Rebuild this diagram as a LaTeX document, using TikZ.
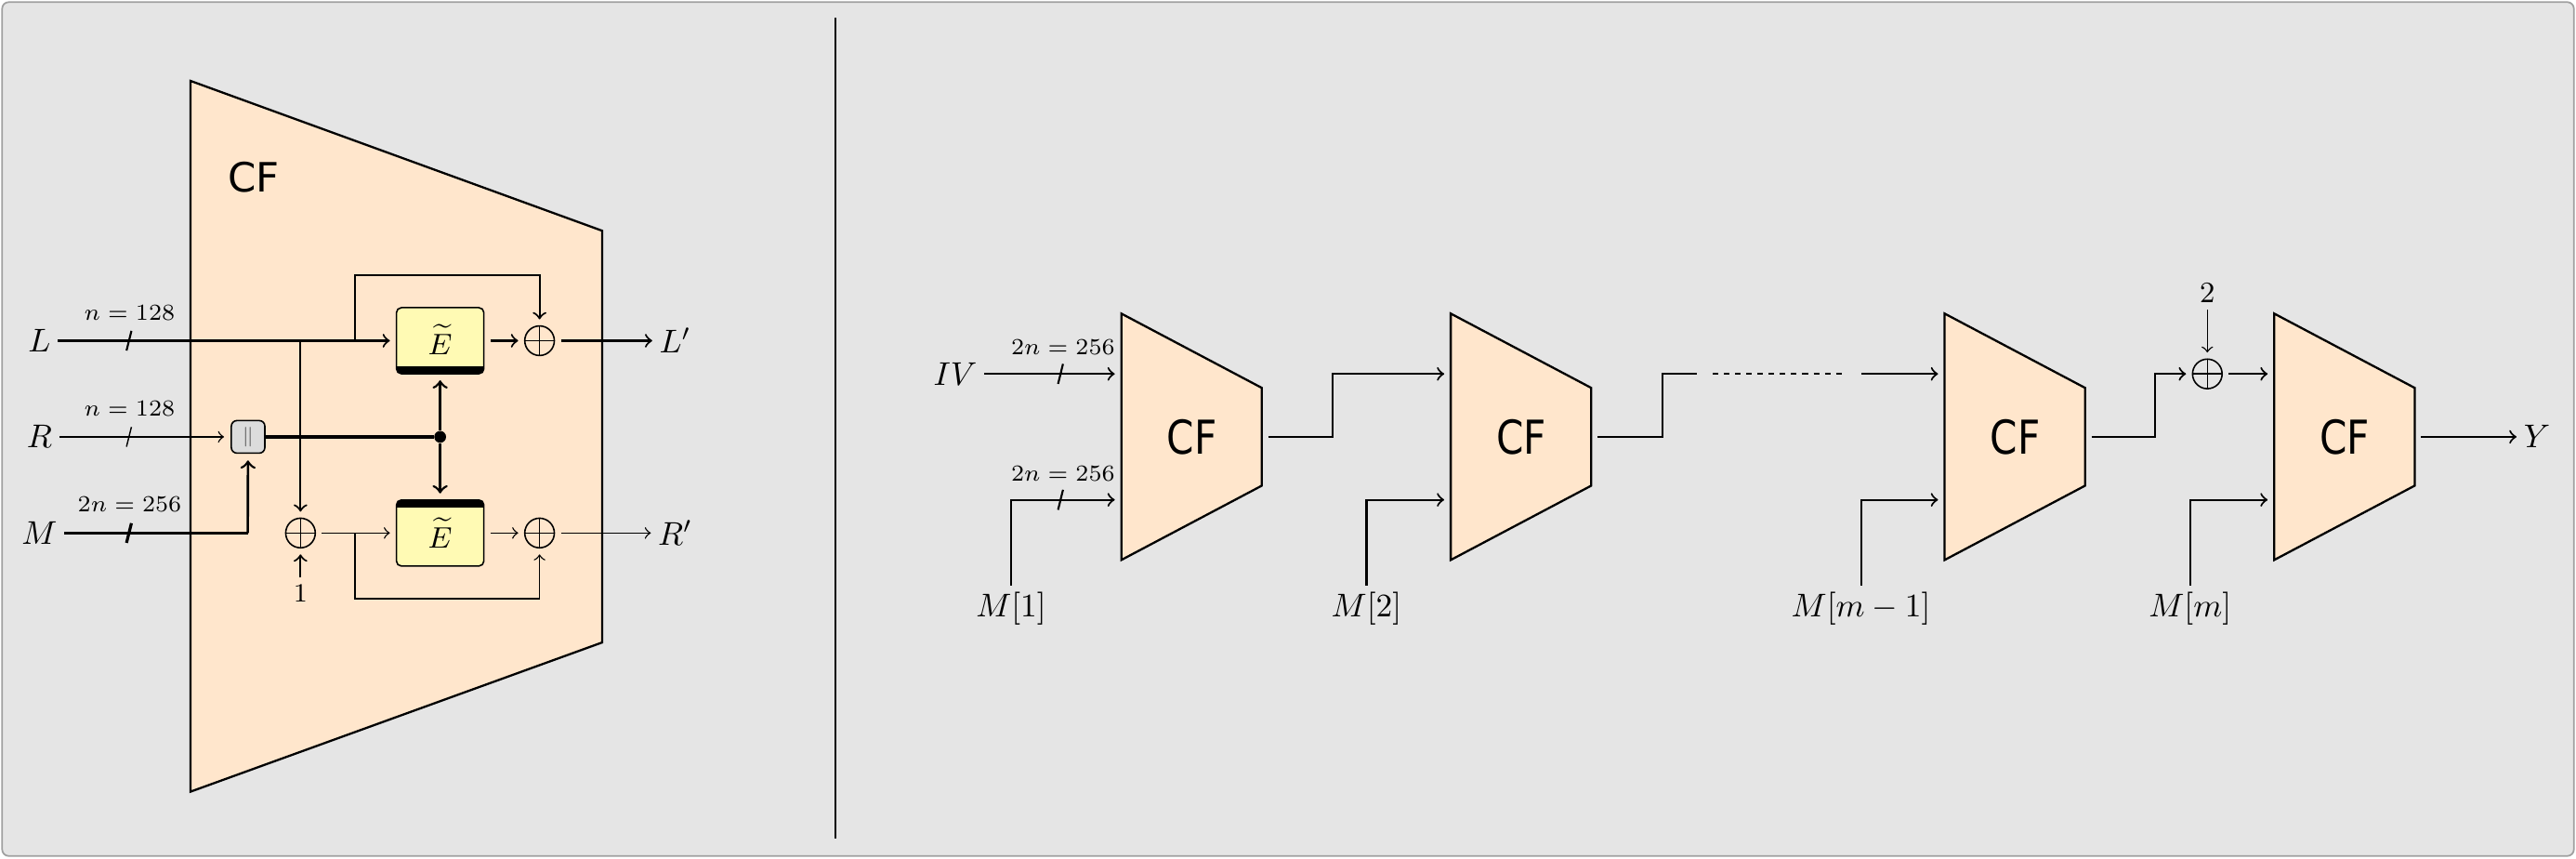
\documentclass[tikz,border=0pt]{standalone}
\usepackage{fontspec}
\usepackage{graphicx}
\newfontfamily\cffont{DejaVu Sans}
\usetikzlibrary{calc}
\definecolor{bgc}{RGB}{229,229,229}
\definecolor{framec}{RGB}{160,160,160}
\definecolor{peach}{RGB}{255,230,204}
\definecolor{eyel}{RGB}{255,250,180}
\definecolor{catg}{RGB}{220,220,220}
\tikzset{
  trap/.style={fill=peach,draw=black,line width=0.65pt,line join=miter},
  cfbig/.style={font=\fontsize{12.3}{14}\cffont, inner sep=0pt},
  cflab/.style={font=\fontsize{14.2}{16}\cffont, inner sep=0pt},
  lab/.style={font=\fontsize{10}{12}\selectfont, inner sep=2pt},
  smlab/.style={font=\fontsize{6.8}{8}\selectfont, inner sep=0pt},
  numlab/.style={font=\fontsize{8}{9.6}\selectfont, inner sep=2pt},
  numlabb/.style={font=\fontsize{9}{11}\selectfont, inner sep=2pt},
  ebox/.style={rectangle, rounded corners=1.5pt, minimum width=26.6pt, minimum height=20.1pt,
    fill=eyel, draw, line width=0.45pt, inner sep=0pt, outer sep=2pt, font=\fontsize{9}{10}\selectfont},
  barbottom/.style={path picture={\fill[black,sharp corners] (path picture bounding box.south west) rectangle ([yshift=2.2pt]path picture bounding box.south east);}},
  bartop/.style={path picture={\fill[black,sharp corners] (path picture bounding box.north west) rectangle ([yshift=-2.2pt]path picture bounding box.north east);}},
  xorn/.style={circle, draw, line width=0.45pt, minimum size=9pt, inner sep=0pt, outer sep=2pt,
    path picture={\draw[line width=0.45pt] (path picture bounding box.north) -- (path picture bounding box.south)
      (path picture bounding box.west) -- (path picture bounding box.east);}},
  catbox/.style={rectangle, rounded corners=1.7pt, minimum width=10.2pt, minimum height=9.9pt,
    fill=catg, draw, line width=0.45pt, inner sep=0pt, font=\fontsize{6.5}{7}\selectfont},
  dotn/.style={circle, fill=black, inner sep=0pt, minimum size=3.6pt},
  wire/.style={line width=0.6pt},
  thinw/.style={line width=0.4pt},
  rwire/.style={line width=0.6pt},
  dbl/.style={line width=0.75pt},
  bus/.style={line width=1.1pt},
  mline/.style={line width=0.9pt},
  divider/.style={line width=0.75pt},
}
\newcommand\cfblock[2]{%
  \draw[trap] (#2,190.8) -- (#2+85.5,236) -- (#2+85.5,295.5) -- (#2,340.7) -- cycle;
  \coordinate (#1a) at (#2,227.5);
  \coordinate (#1b) at (#2,304.1);
  \coordinate (#1o) at (#2+85.5,265.8);
  \node[cflab] (#1l) at (#2+43,265.8) {\scalebox{0.84}[1]{CF}};
}
\begin{document}
\begin{tikzpicture}[x=0.5pt,y=-0.5pt,>=to]
\useasboundingbox (0,0) rectangle (1567.9,522.1);
\draw[fill=bgc,draw=framec,line width=0.5pt,rounded corners=2pt] (1.3,1.3) rectangle (1566.6,520.8);
% ---------- left: compression function ----------
\draw[trap] (115.9,49.2) -- (366.5,140.4) -- (366.5,390.9) -- (115.9,481.7) -- cycle;
\node[cfbig] (cftitle) at (154.3,108) {CF};
\node[lab] (L) at (24,207.3) {$L$};
\node[lab] (R) at (24,265.8) {$R$};
\node[lab] (M) at (24,324.3) {$M$};
\node[ebox,barbottom] (E1) at (267.9,207.3) {\raisebox{0.6pt}{$\widetilde{E}$}};
\node[ebox,bartop] (E2) at (267.9,324.3) {\raisebox{-0.6pt}{$\widetilde{E}$}};
\node[xorn] (X1) at (328.4,207.3) {};
\node[xorn] (X2) at (182.9,324.3) {};
\node[xorn] (X3) at (328.4,324.3) {};
\node[catbox] (cat) at (151,265.8) {\textcolor{black!60}{$\|$}};
\node[dotn] (dot) at (267.9,265.8) {};
\node[lab] (Lp) at (411,207.3) {$L'$};
\node[lab] (Rp) at (411,324.3) {$R'$};
\node[numlab] (one) at (182.9,361) {$1$};
\coordinate (b1) at (182.9,207.3);
\coordinate (b2) at (216,207.3);
\coordinate (t1) at (216,167.3);
\coordinate (b3) at (216,324.3);
\coordinate (t2) at (216,364.3);
\coordinate (mc) at (150.8,324.3);
\draw[wire,->] (L) -- (E1);
\draw[wire,->] (b1) -- (X2);
\draw[wire,->] (b2) -- (t1) -| (X1);
\draw[wire,->] (E1) -- (X1);
\draw[wire,->] (X1) -- (Lp);
\draw[thinw,->,shorten >=2pt] (R) -- (cat);
\draw[mline] (M) -- (mc);
\draw[dbl,->,shorten >=2pt] (mc) -- (cat);
\draw[bus] (cat) -- (dot);
\draw[dbl,->] (dot) -- (E1);
\draw[dbl,->] (dot) -- (E2);
\draw[thinw,->] (X2) -- (E2);
\draw[thinw,->] (b3) -- (t2) -| (X3);
\draw[thinw,->] (E2) -- (X3);
\draw[thinw,->] (X3) -- (Rp);
\draw[wire,->] (one) -- (X2);
\draw[wire] (77,213.3) -- (80,201.3);
\draw[thinw] (77,271.8) -- (80,259.8);
\draw[mline] (77,330.3) -- (80,318.3);
\node[smlab] (lab1) at (78.9,190.6) {$n=128$};
\node[smlab] (lab2) at (78.9,248.8) {$n=128$};
\node[smlab] (lab3) at (78.9,306.7) {$2n=256$};
% ---------- divider ----------
\draw[divider] (508.4,11) -- (508.4,510);
% ---------- right: iteration ----------
\cfblock{c1}{682.5}
\cfblock{c2}{883}
\cfblock{c3}{1183.6}
\cfblock{c4}{1384.2}
\node[lab] (IV) at (581.4,227.5) {$IV$};
\draw[rwire,->,shorten >=2pt] (IV) -- (c1a);
\draw[rwire] (644,233.6) -- (647,221.4);
\node[smlab] (lab4) at (647,211.2) {$2n=256$};
\node[lab] (M1) at (615.4,370.5) {$M[1]$};
\draw[rwire,->,shorten >=2pt] (M1) |- (c1b);
\draw[rwire] (644,310.2) -- (647,298);
\node[smlab] (lab5) at (647,288.1) {$2n=256$};
\coordinate (k1) at (811.2,265.8);
\draw[rwire,->,shorten <=2pt,shorten >=2pt] (c1o) -- (k1) |- (c2a);
\node[lab] (M2) at (831.7,370.5) {$M[2]$};
\draw[rwire,->,shorten >=2pt] (M2) |- (c2b);
\coordinate (k2) at (1012,265.8);
\coordinate (d1) at (1032.8,227.5);
\coordinate (d2) at (1042.6,227.5);
\coordinate (d3) at (1122.6,227.5);
\coordinate (d4) at (1133.1,227.5);
\draw[rwire,shorten <=2pt] (c2o) -- (k2) |- (d1);
\draw[rwire,dash pattern=on 1.7pt off 1.7pt] (d2) -- (d3);
\draw[rwire,->,shorten >=2pt] (d4) -- (c3a);
\node[lab] (Mm1) at (1132.7,370.5) {$M[m-1]$};
\draw[rwire,->,shorten >=2pt] (Mm1) |- (c3b);
\coordinate (k3) at (1311.9,265.8);
\node[xorn] (X4) at (1343.5,227.5) {};
\draw[rwire,->,shorten <=2pt] (c3o) -- (k3) |- (X4);
\node[numlabb] (two) at (1343.5,178.2) {$2$};
\draw[thinw,->] (two) -- (X4);
\draw[rwire,->,shorten >=2pt] (X4) -- (c4a);
\node[lab] (Mm) at (1333,370.5) {$M[m]$};
\draw[rwire,->,shorten >=2pt] (Mm) |- (c4b);
\node[lab] (Y) at (1544.1,265.8) {$Y$};
\draw[rwire,->,shorten <=2pt] (c4o) -- (Y);
\end{tikzpicture}
\end{document}
